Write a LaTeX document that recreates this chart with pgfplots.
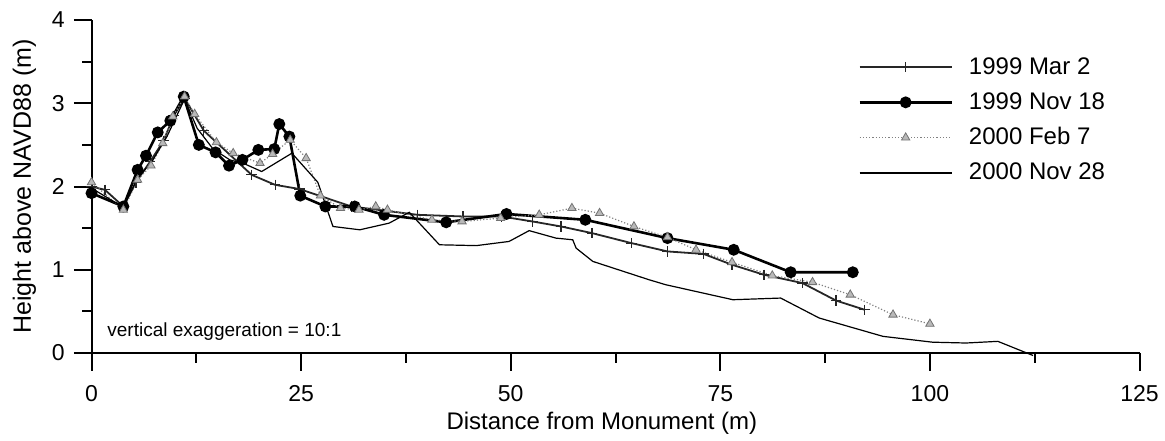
\documentclass[border=0pt]{standalone}
\usepackage{fontspec}
\setmainfont{Liberation Sans}
\usepackage{pgfplots}
\pgfplotsset{compat=1.18}
\begin{document}
\begin{tikzpicture}
\begin{axis}[
  at={(0pt,0pt)}, anchor=south west,
  scale only axis, width=524pt, height=166.5pt,
  xmin=0, xmax=125, ymin=0, ymax=4,
  axis lines*=left,
  axis line style={line width=1pt},
  xtick={0,25,...,125}, minor xtick={12.5,37.5,...,112.5},
  ytick={0,1,2,3,4}, minor ytick={0.5,1.5,2.5,3.5},
  tick align=outside, major tick length=8.75pt, minor tick length=4.75pt,
  every tick/.style={line width=1pt, black},
  /pgf/number format/assume math mode=true,
  ticklabel style={font=\fontsize{11.5}{13}\selectfont, inner sep=0pt},
  xticklabel style={anchor=north, yshift=-7.5pt},
  yticklabel style={anchor=east, xshift=-4.5pt},
  xlabel={Distance from Monument (m)},
  ylabel={Height above NAVD88 (m)},
  every axis x label/.style={at={(axis description cs:0.487,-0.229)}, anchor=base, font=\fontsize{12}{14}\selectfont},
  every axis y label/.style={at={(axis description cs:-0.064,0.5)}, rotate=90, anchor=center, font=\fontsize{12.5}{14}\selectfont},
  clip=false,
  legend style={draw=none, fill=none, at={(axis cs:91.42,3.62)}, anchor=north west,
    font=\fontsize{12}{14}\selectfont, inner sep=0pt, row sep=2.65pt,
    nodes={inner sep=2pt, text height=9pt, text depth=2pt},
    /tikz/every odd column/.append style={column sep=6pt}},
  legend cell align=left,
  legend image code/.code={\draw[mark repeat=2,mark phase=2,#1] plot coordinates {(0pt,0pt) (23pt,0pt) (46pt,0pt)};},
]
% 1999 Mar 2
\addplot[black!85, line width=0.9pt, mark=+, mark size=2.6pt, mark options={solid, line width=0.6pt}] coordinates {
(0,2.00) (1.6,1.96) (3.8,1.76) (5.3,2.05) (7.0,2.30) (8.6,2.55) (9.8,2.85) (11.1,3.06)
(13.4,2.67) (19.1,2.14) (21.9,2.02) (24.8,1.97) (31.0,1.76) (38.9,1.66) (44.3,1.64)
(48.9,1.64) (52.6,1.58) (56.0,1.52) (59.7,1.44) (64.4,1.32) (68.7,1.22) (73.0,1.19)
(76.4,1.06) (80.2,0.94) (84.8,0.84) (88.8,0.63) (92.2,0.52)};
\addlegendentry{1999 Mar 2}
% 1999 Nov 18
\addplot[black, line width=1.3pt, mark=*, mark size=2.3pt, mark options={solid}] coordinates {
(0,1.92) (3.8,1.76) (5.5,2.20) (6.5,2.37) (7.9,2.65) (9.4,2.79) (11.0,3.08) (12.8,2.50)
(14.8,2.41) (16.4,2.25) (18.0,2.32) (19.9,2.44) (21.8,2.45) (22.4,2.75) (23.6,2.60)
(24.9,1.89) (27.9,1.76) (31.4,1.76) (34.9,1.66) (42.3,1.57) (49.5,1.67) (58.9,1.60)
(68.7,1.38) (76.6,1.24) (83.4,0.97) (90.8,0.97)};
\addlegendentry{1999 Nov 18}
% 2000 Feb 7
\addplot[gray, line width=0.6pt, densely dotted, mark=triangle*, mark size=2.4pt,
  mark options={solid, fill=gray!55, draw=black!55, line width=0.4pt}] coordinates {
(0,2.05) (3.8,1.72) (5.5,2.08) (7.1,2.25) (8.5,2.52) (9.7,2.84) (11.1,3.08) (12.3,2.87)
(14.9,2.53) (16.9,2.40) (20.1,2.28) (21.6,2.39) (23.7,2.56) (25.6,2.34) (27.3,1.89)
(29.7,1.74) (31.9,1.72) (33.9,1.76) (35.3,1.72) (40.6,1.60) (44.2,1.58) (48.8,1.62)
(53.4,1.66) (57.3,1.74) (60.6,1.68) (64.7,1.52) (68.7,1.39) (72.1,1.24) (76.4,1.09)
(81.2,0.93) (86.0,0.85) (90.5,0.70) (95.6,0.46) (100.0,0.35)};
\addlegendentry{2000 Feb 7}
% 2000 Nov 28
\addplot[black, line width=0.6pt, no markers] coordinates {
(0,1.98) (3.8,1.75) (5.5,2.10) (7.2,2.30) (9.0,2.60) (11.1,3.05) (12.6,2.70) (14.5,2.45)
(16.5,2.32) (18.3,2.27) (20.3,2.18) (23.9,2.40) (27.0,2.05) (28.8,1.52) (32.0,1.48)
(35.5,1.56) (37.9,1.69) (41.5,1.30) (45.9,1.29) (49.8,1.34) (52.2,1.47) (55.4,1.38)
(57.4,1.36) (57.8,1.26) (59.8,1.10) (66.5,0.88) (68.5,0.82) (76.5,0.64) (82.2,0.66)
(86.8,0.42) (94.4,0.20) (100.3,0.13) (104.3,0.12) (108.1,0.14) (112.3,-0.03)};
\addlegendentry{2000 Nov 28}
\node[anchor=base west, inner sep=0pt, font=\fontsize{9.5}{11}\selectfont] at (axis cs:1.85,0.196) {vertical exaggeration = 10:1};
\end{axis}
\pgfresetboundingbox
\path (-45.75pt,-43.5pt) rectangle (536.75pt,176.5pt);
\end{tikzpicture}
\end{document}
